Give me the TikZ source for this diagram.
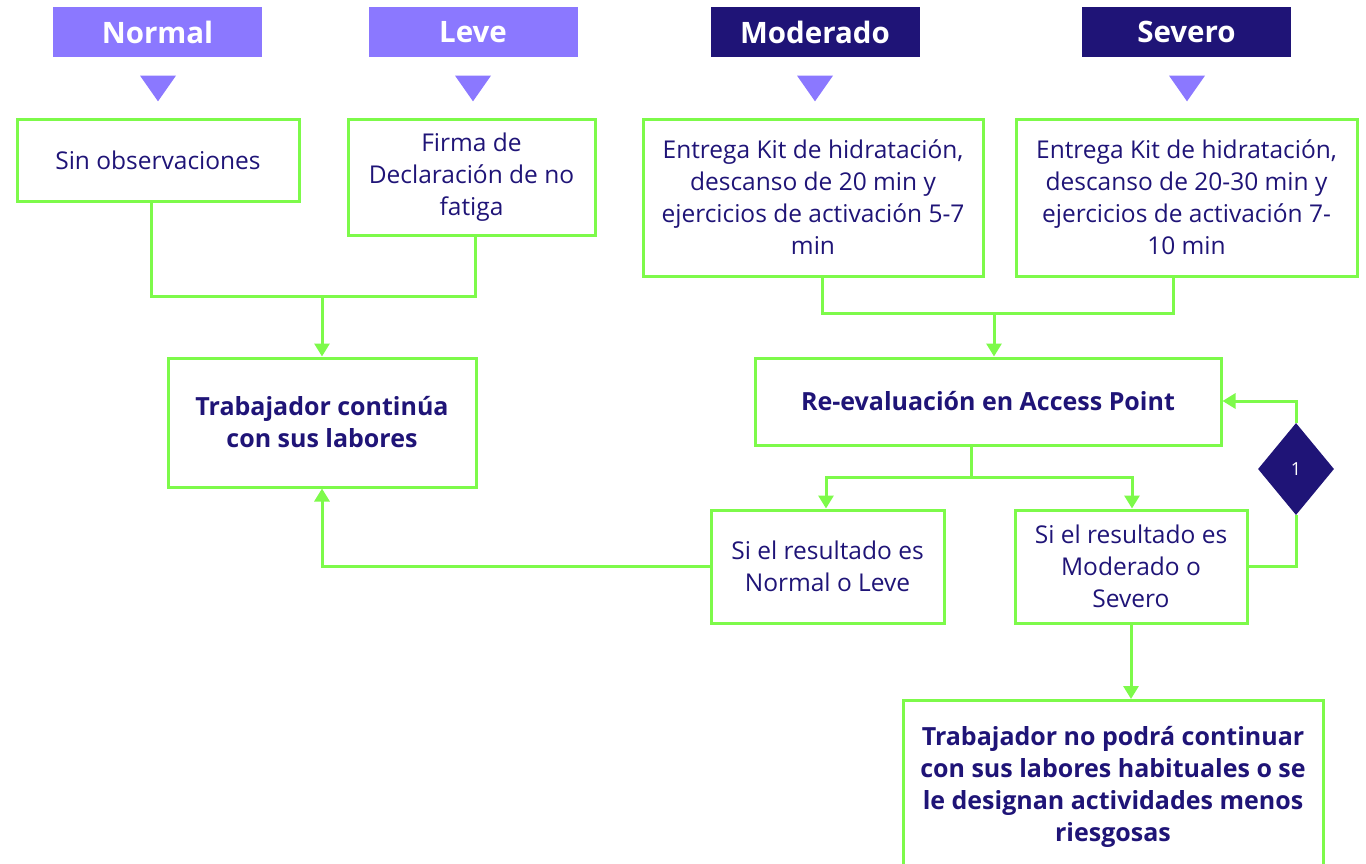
\documentclass[tikz,border=0pt]{standalone}
\usepackage{fontspec}
\setmainfont{Open Sans}
\usetikzlibrary{arrows.meta,shapes.geometric}
\definecolor{lpurple}{HTML}{8B78FF}
\definecolor{navy}{HTML}{1F1477}
\definecolor{lgreen}{HTML}{7DFA4A}
\tikzset{
  hdrlight/.style={fill=lpurple,minimum width=209pt,minimum height=50pt,inner sep=0pt,text=white,font=\fontsize{29.5}{32}\selectfont\bfseries},
  hdrdark/.style={fill=navy,minimum width=209pt,minimum height=50pt,inner sep=0pt,text=white,font=\fontsize{29.5}{32}\selectfont\bfseries},
  tri/.style={isosceles triangle,isosceles triangle apex angle=70,shape border rotate=-90,fill=lpurple,inner sep=0pt,minimum height=25pt,minimum width=36pt},
  gbox/.style={draw=lgreen,line width=3pt,text=navy,align=center,inner sep=0pt,font=\fontsize{24.5}{32}\selectfont},
  gboxb/.style={gbox,font=\fontsize{25}{32}\selectfont\bfseries},
  conn/.style={draw=lgreen,line width=3pt},
  arr/.style={conn,-{Triangle[width=15pt,length=13pt]}},
}
\begin{document}
\begin{tikzpicture}[x=1pt,y=-1pt]
\useasboundingbox (0,0) rectangle (1366,863);
% headers
\node[hdrlight] (hn) at (157.5,32) {Normal};
\node[hdrlight] (hl) at (473,32) {Leve};
\node[hdrdark] (hm) at (815,32) {Moderado};
\node[hdrdark] (hs) at (1186.5,32) {Severo};
\node[tri] (tn) at (158,85) {};
\node[tri] (tl) at (473,85) {};
\node[tri] (tm) at (815,85) {};
\node[tri] (ts) at (1187,85) {};
% boxes
\node[gbox,minimum width=282pt,minimum height=82pt] (sin) at (158,160) {Sin observaciones};
\node[gbox,minimum width=247pt,minimum height=116pt] (firma) at (471.5,177) {Firma de\\Declaración de no\\fatiga};
\node[gbox,minimum width=340pt,minimum height=157pt] (mod) at (813,197.5) {Entrega Kit de hidratación,\\descanso de 20 min y\\ejercicios de activación 5-7\\min};
\node[gbox,minimum width=341pt,minimum height=157pt] (sev) at (1186.5,197.5) {Entrega Kit de hidratación,\\descanso de 20-30 min y\\ejercicios de activación 7-\\10 min};
\node[gboxb,minimum width=308pt,minimum height=129pt] (trab) at (322,422.5) {Trabajador continúa\\con sus labores};
\node[gboxb,minimum width=466pt,minimum height=87pt] (reev) at (988,401.5) {Re-evaluación en Access Point};
\node[gbox,minimum width=233pt,minimum height=113pt] (sinl) at (827.5,566.5) {Si el resultado es\\Normal o Leve};
\node[gbox,minimum width=232pt,minimum height=113pt] (simod) at (1131,566.5) {Si el resultado es\\Moderado o\\Severo};
\node[gboxb,minimum width=420pt,minimum height=172pt,anchor=north] (fin) at (1113,699) {Trabajador no podrá continuar\\con sus labores habituales o se\\le designan actividades menos\\riesgosas};
\node[diamond,fill=navy,minimum width=76pt,minimum height=92pt,inner sep=0pt,text=white,font=\fontsize{18}{20}\selectfont] (dia) at (1296,469) {1};
% connectors
\coordinate (j1) at (322,296);
\coordinate (j2) at (994,313);
\coordinate (j3) at (971,477);
\coordinate (l3) at (826,477);
\coordinate (r3) at (1132,477);
\coordinate (c4) at (322,566);
\coordinate (c5) at (1296,566);
\coordinate (c6) at (1296,401);
\draw[conn] ([xshift=-7pt]sin.south) |- (j1) -| ([xshift=3.5pt]firma.south);
\draw[arr] (j1) -- (trab.north);
\draw[conn] ([xshift=9pt]mod.south) |- (j2) -| ([xshift=-13.5pt]sev.south);
\draw[arr] (j2) -- (j2 |- reev.north);
\draw[conn] ([xshift=-17pt]reev.south) -- (j3);
\draw[arr] (j3) -- (l3) -- (l3 |- sinl.north);
\draw[arr] (j3) -- (r3) -- (r3 |- simod.north);
\draw[arr] (sinl.west |- c4) -- (c4) -- (trab.south);
\draw[conn] (simod.east |- c5) -- (c5) -- (dia.south);
\draw[arr] (dia.north) -- (c6) -- (reev.east |- c6);
\draw[arr] (simod.south) -- (simod.south |- fin.north);
\end{tikzpicture}
\end{document}
